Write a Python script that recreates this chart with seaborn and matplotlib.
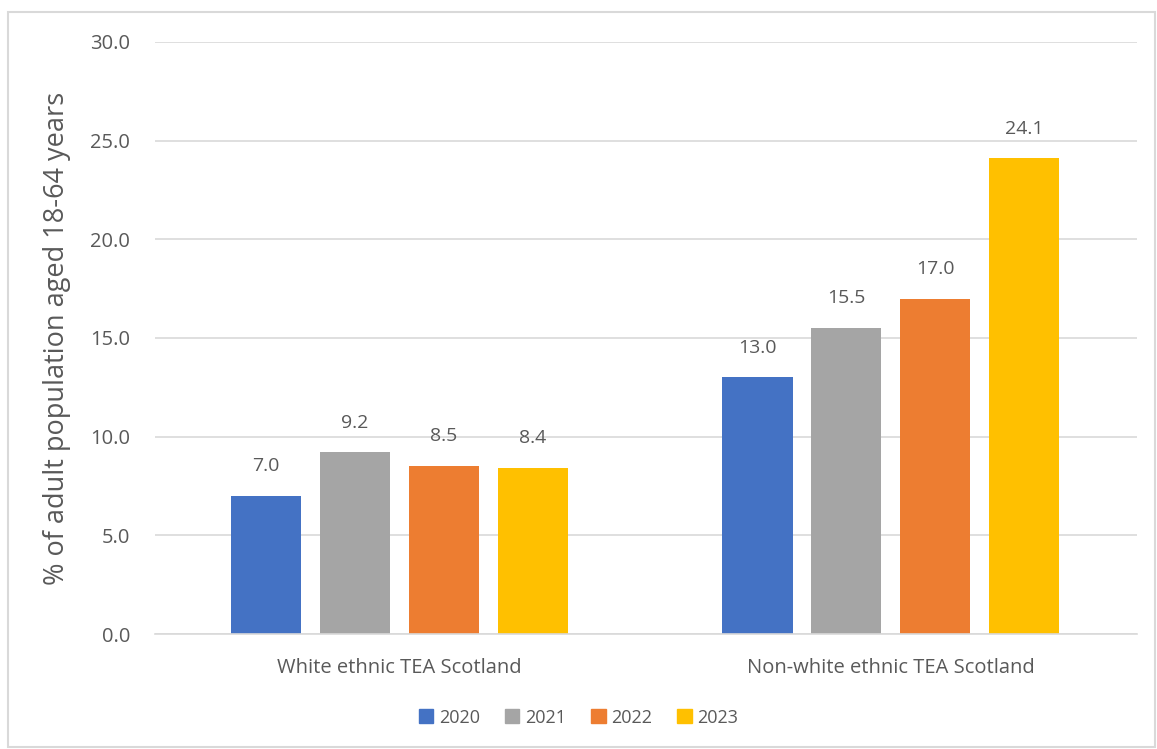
import pandas as pd
import matplotlib.pyplot as plt
import seaborn as sns
from matplotlib.patches import Rectangle

# Data
categories = ['White ethnic TEA Scotland', 'Non-white ethnic TEA Scotland']
years = ['2020', '2021', '2022', '2023']
vals_2020 = [7.0, 13.0]
vals_2021 = [9.2, 15.5]
vals_2022 = [8.5, 17.0]
vals_2023 = [8.4, 24.1]
colors = ['#4472C4', '#A5A5A5', '#ED7D31', '#FFC000']

df = pd.DataFrame({
    'category': categories * 4,
    'year': [y for y in years for _ in categories],
    'value': vals_2020 + vals_2021 + vals_2022 + vals_2023,
})

sns.set_theme(style='white')
plt.rcParams['font.family'] = ['Open Sans', 'DejaVu Sans']
text_col = '#595959'

fig = plt.figure(figsize=(11.57, 7.49), dpi=100)
ax = fig.add_axes([0.134, 0.1535, 0.849, 0.7905])

sns.barplot(data=df, x='category', y='value', hue='year', palette=colors,
            width=0.724, gap=0.21, ax=ax, legend=False, saturation=1,
            linewidth=0)

for c in ax.containers:
    ax.bar_label(c, fmt='%.1f', padding=15, fontsize=14, color=text_col)

ax.set_ylim(0, 30)
ax.set_xlim(-0.498, 1.502)
ax.set_yticks([0, 5, 10, 15, 20, 25, 30])
ax.set_yticklabels([f'{v:.1f}' for v in [0, 5, 10, 15, 20, 25, 30]])
ax.yaxis.grid(True, color='#D9D9D9', linewidth=1.2)
ax.set_axisbelow(True)
for s in ['top', 'right', 'left']:
    ax.spines[s].set_visible(False)
ax.spines['bottom'].set_color('#D9D9D9')
ax.spines['bottom'].set_linewidth(1.2)
ax.tick_params(axis='y', length=0, pad=18, labelsize=14.5, labelcolor=text_col)
ax.tick_params(axis='x', length=0, pad=17, labelsize=14.5, labelcolor=text_col)
ax.set_xlabel('')
ax.set_ylabel('% of adult population aged 18-64 years', fontsize=19.5,
              color=text_col, labelpad=14)

handles = [Rectangle((0, 0), 1, 1, color=c) for c in colors]
fig.legend(handles, years, loc='center', bbox_to_anchor=(0.5, 0.042), ncol=4,
           frameon=False, fontsize=13, labelcolor=text_col,
           handlelength=0.8, handleheight=0.8, handletextpad=0.3, columnspacing=1.4)

# outer chart border
fig.patches.append(Rectangle((8 / 1157, 2 / 749), 1147 / 1157, 735 / 749,
                             transform=fig.transFigure, fill=False,
                             edgecolor='#D9D9D9', linewidth=1.5))

fig.savefig('out.png', dpi=100)
